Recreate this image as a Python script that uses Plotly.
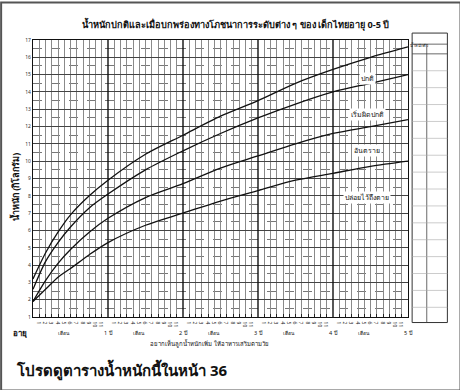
import plotly.graph_objects as go

# ---- data ----
age_months = [0, 2, 4, 6, 9, 12, 18, 24, 30, 36, 42, 48, 54, 60]
upper_normal = [3.2, 4.7, 5.9, 6.9, 8.0, 8.9, 10.4, 11.5, 12.6, 13.5, 14.5, 15.3, 16.0, 16.6]
lower_normal = [2.6, 4.2, 5.3, 6.2, 7.3, 8.1, 9.5, 10.6, 11.6, 12.5, 13.3, 14.0, 14.5, 15.0]
mild_line = [1.9, 3.1, 4.1, 4.9, 5.9, 6.7, 7.9, 8.7, 9.6, 10.3, 11.0, 11.6, 12.0, 12.4]
severe_line = [1.9, 2.6, 3.3, 3.8, 4.6, 5.3, 6.3, 7.0, 7.7, 8.3, 8.9, 9.3, 9.7, 10.0]

zone_labels = ["ปกติ", "เริ่มผิดปกติ", "อันตราย", "ปล่อยไว้ถึงตาย"]
zone_label_y = [14.8, 12.7, 10.6, 7.9]
y_ticks = list(range(1, 18))
year_labels = ["1 ปี", "2 ปี", "3 ปี", "4 ปี", "5 ปี"]

title_text = "น้ำหนักปกติและเมื่อบกพร่องทางโภชนาการระดับต่าง ๆ ของ เด็กไทยอายุ 0-5 ปี"
ytitle_text = "น้ำหนัก (กิโลกรัม)"
caption_text = "อยากเห็นลูกน้ำหนักเพิ่ม ให้อาหารเสริมตามวัย"
footer_text = "โปรดดูตารางน้ำหนักนี้ในหน้า 36"

FONT = "Noto Sans, DejaVu Sans, sans-serif"

fig = go.Figure()
for ys in [upper_normal, lower_normal, mild_line, severe_line]:
    fig.add_trace(go.Scatter(x=age_months, y=ys, mode="lines",
                             line=dict(color="#111", width=1.3, shape="spline", smoothing=0.8),
                             showlegend=False, hoverinfo="skip"))

# month tick labels
month_vals = [m for m in range(1, 60) if m % 12 != 0]
month_text = [str(m % 12) for m in month_vals]

fig.update_layout(
    width=460, height=390,
    margin=dict(l=33, r=52, t=40, b=73),
    paper_bgcolor="white", plot_bgcolor="white",
    font=dict(family=FONT, color="#111"),
    xaxis=dict(range=[0, 60], tickmode="array", tickvals=month_vals, ticktext=month_text,
               tickfont=dict(size=5, color="#222"), ticks="inside", ticklen=3, tickcolor="#222",
               showgrid=True, gridcolor="#8a8a8a", gridwidth=0.6,
               showline=True, linecolor="#111", linewidth=1.2, mirror=True, zeroline=False,
               fixedrange=True),
    yaxis=dict(range=[1, 17], tickmode="array", tickvals=y_ticks, ticktext=[str(v) for v in y_ticks],
               tickfont=dict(size=5, color="#333"), ticks="", showgrid=True,
               gridcolor="#444", gridwidth=0.8,
               minor=dict(dtick=0.5, tick0=1, showgrid=True, gridcolor="#777", griddash="dash", gridwidth=0.6),
               showline=True, linecolor="#111", linewidth=1.2, mirror=True, zeroline=False,
               fixedrange=True),
)

# year lines (thicker)
for yr in range(1, 5):
    fig.add_shape(type="line", xref="x", yref="paper", x0=12 * yr, x1=12 * yr, y0=0, y1=1,
                  line=dict(color="#111", width=1.4))

# zone labels
for t, yv in zip(zone_labels, zone_label_y):
    fig.add_annotation(x=53.5, y=yv, text=t, showarrow=False, xref="x", yref="y",
                       font=dict(size=7, color="#111"), bgcolor="white")

# year / month labels under axis
ann_y = -0.058
fig.add_annotation(xref="paper", yref="paper", x=-0.06, y=ann_y, text="<b>อายุ</b>",
                   showarrow=False, font=dict(size=8), yanchor="middle")
for i, t in enumerate(year_labels):
    fig.add_annotation(xref="x", yref="paper", x=12 * (i + 1), y=ann_y, text=t,
                       showarrow=False, font=dict(size=5.5), yanchor="middle")
    fig.add_annotation(xref="x", yref="paper", x=12 * i + 5, y=ann_y, text="เดือน",
                       showarrow=False, font=dict(size=5), yanchor="middle")

fig.add_annotation(xref="paper", yref="paper", x=0.47, y=-0.095, text=caption_text,
                   showarrow=False, font=dict(size=6), yanchor="middle")

# titles
fig.add_annotation(xref="paper", yref="paper", x=0.54, y=1.058, text="<b>" + title_text + "</b>",
                   showarrow=False, font=dict(size=9.2), yanchor="middle")
fig.add_annotation(xref="paper", yref="paper", x=-0.022, y=0.47, text="<b>" + ytitle_text + "</b>",
                   textangle=-90, showarrow=False, font=dict(size=9), xanchor="right")
fig.add_annotation(xref="paper", yref="paper", x=-0.05, y=-0.19, text="<b>" + footer_text + "</b>",
                   xanchor="left", yanchor="middle", showarrow=False, font=dict(size=15))

# right-hand table
tx0, tx1, txm = 1.011, 1.105, 1.05
fig.add_shape(type="rect", xref="paper", yref="paper", x0=tx0, x1=tx1, y0=-0.02, y1=1.025,
              line=dict(color="#333", width=1))
fig.add_shape(type="line", xref="paper", yref="paper", x0=txm, x1=txm, y0=-0.02, y1=0.985,
              line=dict(color="#444", width=0.8))
fig.add_shape(type="line", xref="paper", yref="paper", x0=tx0, x1=tx1, y0=0.985, y1=0.985,
              line=dict(color="#444", width=0.8))
fig.add_shape(type="line", xref="paper", yref="paper", x0=tx0, x1=tx1, y0=0.95, y1=0.95,
              line=dict(color="#444", width=0.8))
for k in range(1, 16):
    yy = 0.95 - k * 0.061
    fig.add_shape(type="line", xref="paper", yref="paper", x0=tx0, x1=tx1, y0=yy, y1=yy,
                  line=dict(color="#aaa", width=0.6))
fig.add_annotation(xref="paper", yref="paper", x=(tx0 + tx1) / 2, y=1.005, text="น้ำหนักตัว",
                   showarrow=False, font=dict(size=4))

# outer frame of the scan
fig.add_shape(type="rect", xref="paper", yref="paper", x0=-0.085, x1=1.14, y0=-0.265, y1=1.135,
              line=dict(color="#555", width=2))

fig.write_html("out.html")
